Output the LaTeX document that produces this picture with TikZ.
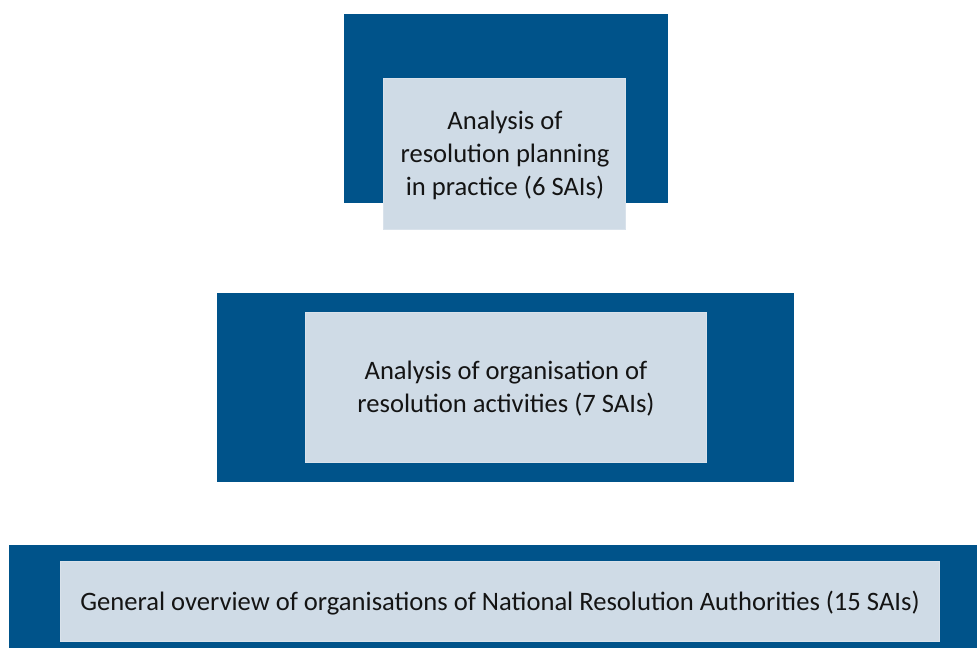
\documentclass[tikz,border=0pt]{standalone}
\usepackage{fontspec}
\setmainfont{Carlito}
\definecolor{darkblue}{RGB}{0,83,138}
\definecolor{lightblue}{RGB}{207,219,230}
\definecolor{txt}{RGB}{20,20,20}
\begin{document}
\begin{tikzpicture}[x=1pt,y=-1pt,
  outer/.style={fill=darkblue,draw=none},
  inner/.style={fill=lightblue,draw=lightblue!80!white,line width=0.6pt},
  lbl/.style={text=txt,font=\fontsize{26.6}{33}\selectfont,align=center,inner sep=0pt}]
\useasboundingbox (0,0) rectangle (977,648);
\fill[white] (0,0) rectangle (977,648);
% top
\path[outer] (344,14) rectangle (668,203);
\path[inner] (383,78) rectangle (625,229);
\node[lbl] (t1) at (505,155) {Analysis of\\resolution planning\\in practice (6 SAIs)};
% middle
\path[outer] (217,293) rectangle (794,482);
\path[inner] (305,312) rectangle (706,462);
\node[lbl] (t2) at (506,389) {Analysis of organisation of\\resolution activities (7 SAIs)};
% bottom
\path[outer] (9,545) rectangle (977,648);
\path[inner] (60,561) rectangle (939,641);
\node[lbl] (t3) at (500,603) {General overview of organisations of National Resolution Authorities (15 SAIs)};
\end{tikzpicture}
\end{document}
